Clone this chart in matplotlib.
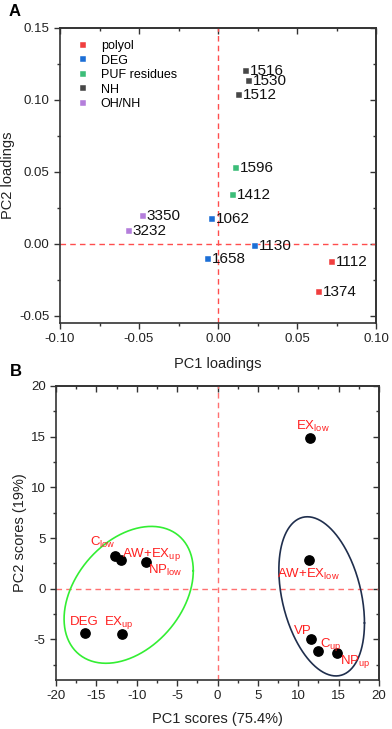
import numpy as np
import matplotlib
matplotlib.use("Agg")
import matplotlib.pyplot as plt
from matplotlib.ticker import MultipleLocator, FormatStrFormatter

plt.rcParams['font.family'] = ['Liberation Sans', 'DejaVu Sans']
plt.rcParams['mathtext.fontset'] = 'custom'
plt.rcParams['mathtext.rm'] = 'Liberation Sans'
plt.rcParams['mathtext.it'] = 'Liberation Sans'
plt.rcParams['axes.unicode_minus'] = False

# ---- panel A: loadings ----
groups = ["polyol", "DEG", "PUF residues", "NH", "OH/NH"]
group_colors = ["#F03E3E", "#1C6FD6", "#3CBD78", "#474747", "#B47EDB"]
load_labels = ["1112", "1374", "1062", "1130", "1658", "1596", "1412",
               "1516", "1530", "1512", "3350", "3232"]
load_group = [0, 0, 1, 1, 1, 2, 2, 3, 3, 3, 4, 4]
pc1_load = [0.0723, 0.0637, -0.0036, 0.0236, -0.0063, 0.0114, 0.0097,
            0.0175, 0.0194, 0.0133, -0.0477, -0.0565]
pc2_load = [-0.0123, -0.0335, 0.0171, -0.0014, -0.0102, 0.0530, 0.0340,
            0.1203, 0.1132, 0.1032, 0.0194, 0.0086]

# ---- panel B: scores ----
score_labels = [r"EX$_{\mathrm{low}}$", r"C$_{\mathrm{low}}$", r"AW+EX$_{\mathrm{up}}$",
                r"NP$_{\mathrm{low}}$", "DEG", r"EX$_{\mathrm{up}}$",
                r"AW+EX$_{\mathrm{low}}$", "VP", r"C$_{\mathrm{up}}$", r"NP$_{\mathrm{up}}$"]
pc1_score = [11.5, -12.7, -12.0, -8.8, -16.4, -11.85, 11.27, 11.64, 12.42, 14.86]
pc2_score = [14.9, 3.2, 2.8, 2.6, -4.35, -4.45, 2.8, -5.0, -6.1, -6.35]
# label offsets in pixels (dx, dy), ha
label_off = [(-14, 8), (-25, 10), (1, 3), (2, -11), (-15, 8), (-18, 9),
             (0, -18), (-18, 5), (2, 4), (3, -11)]
label_ha = ["left", "left", "left", "left", "left", "left",
            "center", "left", "left", "left"]

# groupings: center x, center y, var x, var y, cov xy
ell_params = [(-11.0, -0.6, 8.0 ** 2, 6.75 ** 2, 19.0, "#33EE33"),
              (12.9, -0.75, 5.3 ** 2, 7.85 ** 2, -13.9, "#1F2E4D")]

spine_col = "#333333"


def style_axes(ax, xmaj, xmin, ymaj, ymin, fmtx, fmty):
    for s in ax.spines.values():
        s.set_color(spine_col)
        s.set_linewidth(1.2)
    ax.xaxis.set_major_locator(MultipleLocator(xmaj))
    ax.xaxis.set_minor_locator(MultipleLocator(xmin))
    ax.yaxis.set_major_locator(MultipleLocator(ymaj))
    ax.yaxis.set_minor_locator(MultipleLocator(ymin))
    ax.xaxis.set_major_formatter(FormatStrFormatter(fmtx))
    ax.yaxis.set_major_formatter(FormatStrFormatter(fmty))
    ax.tick_params(which="both", direction="out", colors=spine_col, labelcolor="#222222",
                   labelsize=9.5, width=1)
    ax.tick_params(which="major", length=4)
    ax.tick_params(which="minor", length=2.5)
    top = ax.secondary_xaxis("top")
    right = ax.secondary_yaxis("right")
    top.xaxis.set_major_locator(MultipleLocator(xmaj))
    top.xaxis.set_minor_locator(MultipleLocator(xmin))
    right.yaxis.set_major_locator(MultipleLocator(ymaj))
    right.yaxis.set_minor_locator(MultipleLocator(ymin))
    for sa in (top, right):
        for s in sa.spines.values():
            s.set_color(spine_col)
            s.set_linewidth(1.2)
        sa.tick_params(which="both", direction="in", colors=spine_col, width=1,
                       labeltop=False, labelright=False)
        sa.tick_params(which="major", length=4)
        sa.tick_params(which="minor", length=2.5)


fig = plt.figure(figsize=(3.92, 7.29), dpi=100)
W, H = 392.0, 729.0

axA = fig.add_axes([60 / W, 1 - 323 / H, (376 - 60) / W, (323 - 28) / H])
axA.set_xlim(-0.1, 0.1)
axA.set_ylim(-0.055, 0.15)
axA.axhline(0, color="#FF4D4D", ls=(0, (4, 3)), lw=1, zorder=1)
axA.axvline(0, color="#FF4D4D", ls=(0, (4, 3)), lw=1, zorder=1)
for gi, g in enumerate(groups):
    xs = [x for x, k in zip(pc1_load, load_group) if k == gi]
    ys = [y for y, k in zip(pc2_load, load_group) if k == gi]
    axA.plot(xs, ys, "s", color=group_colors[gi], ms=4.5, mec="white", mew=0.3,
             label=g, zorder=3)
for x, y, t in zip(pc1_load, pc2_load, load_labels):
    axA.annotate(t, (x, y), xytext=(4, 0), textcoords="offset pixels",
                 ha="left", va="center", fontsize=11, color="#111111")
axA.legend(loc="upper left", bbox_to_anchor=(0.02, 0.997), frameon=False,
           fontsize=9, handlelength=0.8, handletextpad=1.05, labelspacing=0.2,
           markerscale=1.0)
style_axes(axA, 0.05, 0.025, 0.05, 0.025, "%.2f", "%.2f")
axA.set_xlabel("PC1 loadings", fontsize=10.5, color="#222222", labelpad=8)
axA.set_ylabel("PC2 loadings", fontsize=10.5, color="#222222", labelpad=3)
fig.text(9 / W, 1 - 12 / H, "A", fontsize=12, fontweight="bold", va="center")

axB = fig.add_axes([56 / W, 1 - 680 / H, (379 - 56) / W, (680 - 386) / H])
axB.set_xlim(-20, 20)
axB.set_ylim(-9, 20)
axB.axhline(0, color="#FF7070", ls=(0, (4, 3)), lw=1, zorder=1)
axB.axvline(0, color="#FF7070", ls=(0, (4, 3)), lw=1, zorder=1)
t = np.linspace(0, 2 * np.pi, 300)
for cx, cy, sxx, syy, sxy, col in ell_params:
    L = np.linalg.cholesky(np.array([[sxx, sxy], [sxy, syy]]))
    pts = L @ np.vstack([np.cos(t), np.sin(t)])
    axB.plot(cx + pts[0], cy + pts[1], color=col, lw=1.2, zorder=2)
axB.scatter(pc1_score, pc2_score, s=45, color="black", zorder=3)
for x, y, lab, off, ha in zip(pc1_score, pc2_score, score_labels, label_off, label_ha):
    axB.annotate(lab, (x, y), xytext=off, textcoords="offset pixels",
                 ha=ha, va="baseline", fontsize=9.5, color="#FF2020", zorder=4)
style_axes(axB, 5, 2.5, 5, 2.5, "%d", "%d")
axB.set_xlabel("PC1 scores (75.4%)", fontsize=10.5, color="#222222", labelpad=7)
axB.set_ylabel("PC2 scores (19%)", fontsize=10.5, color="#222222", labelpad=3)
fig.text(10 / W, 1 - 372 / H, "B", fontsize=12, fontweight="bold", va="center")

fig.savefig("out.png", dpi=100)
